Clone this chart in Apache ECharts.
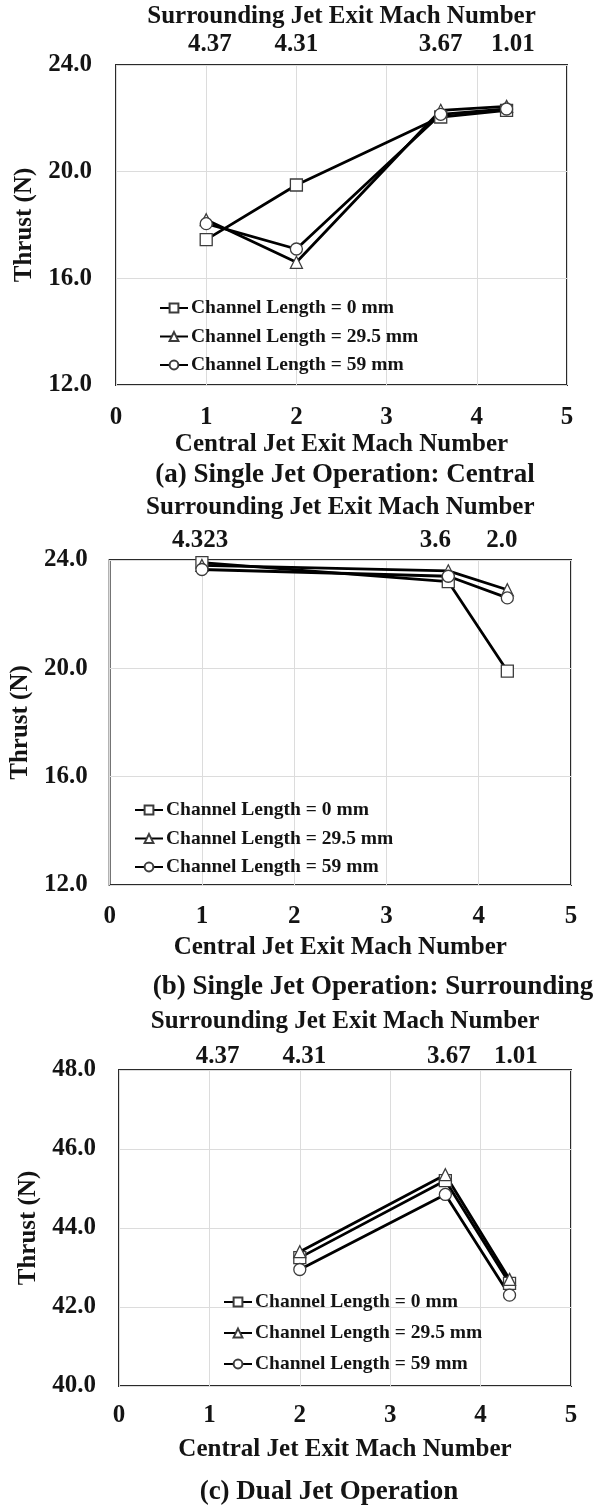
<!DOCTYPE html>
<html>
<head>
<meta charset="utf-8">
<script src="https://cdn.jsdelivr.net/npm/echarts@6/dist/echarts.min.js"></script>
<style>
  html, body { margin: 0; padding: 0; background: #ffffff; }
  #chart { width: 597px; height: 1506px; }
</style>
</head>
<body>
<div id="chart"></div>
<script>
// Series shared by all three panels
const seriesNames = ['Channel Length = 0 mm', 'Channel Length = 29.5 mm', 'Channel Length = 59 mm'];
const seriesSymbols = ['rect', 'triangle', 'circle'];

// (a) Single jet operation: central
const machA = [1, 2, 3.6, 4.33];
const thrustA_0 = [17.45, 19.5, 22.05, 22.3];
const thrustA_295 = [18.2, 16.6, 22.3, 22.45];
const thrustA_59 = [18.05, 17.1, 22.15, 22.35];
const topPosA = [1.04, 2.0, 3.6, 4.4];
const topLabelsA = ['4.37', '4.31', '3.67', '1.01'];

// (b) Single jet operation: surrounding
const machB = [1, 3.67, 4.31];
const thrustB_0 = [23.9, 23.2, 19.9];
const thrustB_295 = [23.8, 23.6, 22.9];
const thrustB_59 = [23.65, 23.4, 22.6];
const topPosB = [0.98, 3.53, 4.25];
const topLabelsB = ['4.323', '3.6', '2.0'];

// (c) Dual jet operation
const machC = [2, 3.61, 4.32];
const thrustC_0 = [43.25, 45.2, 42.6];
const thrustC_295 = [43.4, 45.35, 42.7];
const thrustC_59 = [42.95, 44.85, 42.3];
const topPosC = [1.09, 2.05, 3.65, 4.39];
const topLabelsC = ['4.37', '4.31', '3.67', '1.01'];

const captions = ['(a) Single Jet Operation: Central', '(b) Single Jet Operation: Surrounding', '(c) Dual Jet Operation'];
const xTitle = 'Central Jet Exit Mach Number';
const topTitle = 'Surrounding Jet Exit Mach Number';
const yTitle = 'Thrust (N)';

const FONT = '"Liberation Serif", "Times New Roman", serif';
const INK = '#141414';

const panels = [
  {
    x: machA, ys: [thrustA_0, thrustA_295, thrustA_59], yMin: 12, yMax: 24, yStep: 4,
    topPos: topPosA, topLabels: topLabelsA,
    grid: { left: 116, top: 65, width: 451, height: 320 },
    yLabelMargin: 24, yNameGap: 76, xNameGap: 47, topMargin: 8, topNameGap: 36, xLabelMargin: 20,
    legend: { left: 159, top: 298, gap: 8.5 },
    caption: { x: 345, y: 475 }
  },
  {
    x: machB, ys: [thrustB_0, thrustB_295, thrustB_59], yMin: 12, yMax: 24, yStep: 4,
    topPos: topPosB, topLabels: topLabelsB,
    grid: { left: 107, top: 560, width: 464, height: 325 },
    yLabelMargin: 22, yNameGap: 73, xNameGap: 50, topMargin: 7, topNameGap: 40, xLabelMargin: 19,
    legend: { left: 134, top: 800, gap: 8.5 },
    caption: { x: 373, y: 987 }
  },
  {
    x: machC, ys: [thrustC_0, thrustC_295, thrustC_59], yMin: 40, yMax: 48, yStep: 2,
    topPos: topPosC, topLabels: topLabelsC,
    grid: { left: 119, top: 1070, width: 452, height: 316 },
    yLabelMargin: 23, yNameGap: 71, xNameGap: 51, topMargin: 1, topNameGap: 36, xLabelMargin: 17,
    legend: { left: 223, top: 1292, gap: 11 },
    caption: { x: 329, y: 1492 }
  }
];

const textBase = { fontFamily: FONT, fontWeight: 'bold', color: INK };

const option = {
  animation: false,
  backgroundColor: '#ffffff',
  title: [],
  legend: [],
  grid: [],
  xAxis: [],
  yAxis: [],
  series: []
};

panels.forEach((p, i) => {
  option.grid.push(Object.assign({
    show: true, borderColor: '#2a2a2a', borderWidth: 2, backgroundColor: 'transparent',
    containLabel: false
  }, p.grid));

  // bottom axis: central jet Mach number
  option.xAxis.push({
    type: 'value', gridIndex: i, position: 'bottom', min: 0, max: 5, interval: 1,
    name: xTitle, nameLocation: 'middle', nameGap: p.xNameGap,
    nameTextStyle: Object.assign({ fontSize: 25 }, textBase),
    axisLine: { show: false }, axisTick: { show: false },
    axisLabel: Object.assign({ fontSize: 25, margin: p.xLabelMargin }, textBase),
    splitLine: { show: true, lineStyle: { color: '#dcdcdc', width: 1 } }
  });

  // top axis: surrounding jet Mach number at each operating point
  option.xAxis.push({
    type: 'value', gridIndex: i, position: 'top', min: 0, max: 5,
    name: topTitle, nameLocation: 'middle', nameGap: p.topNameGap,
    nameTextStyle: Object.assign({ fontSize: 25 }, textBase),
    axisLine: { show: false }, axisTick: { show: false },
    splitLine: { show: false },
    axisLabel: Object.assign({
      fontSize: 25, margin: p.topMargin,
      customValues: p.topPos,
      formatter: (v) => {
        const k = p.topPos.findIndex(t => Math.abs(t - v) < 1e-6);
        return k >= 0 ? p.topLabels[k] : '';
      }
    }, textBase)
  });

  option.yAxis.push({
    type: 'value', gridIndex: i, min: p.yMin, max: p.yMax, interval: p.yStep,
    name: yTitle, nameLocation: 'middle', nameGap: p.yNameGap, nameRotate: 90,
    nameTextStyle: Object.assign({ fontSize: 25 }, textBase),
    axisLine: { show: false }, axisTick: { show: false },
    axisLabel: Object.assign({ fontSize: 25, margin: p.yLabelMargin, formatter: v => v.toFixed(1) }, textBase),
    splitLine: { show: true, lineStyle: { color: '#dcdcdc', width: 1 } }
  });

  option.legend.push({
    orient: 'vertical', left: p.legend.left, top: p.legend.top, padding: 0,
    itemWidth: 28, itemHeight: 11, itemGap: p.legend.gap,
    selectedMode: false,
    data: seriesNames,
    textStyle: Object.assign({ fontSize: 19.5, padding: [0, 0, 0, -2] }, textBase)
  });

  option.title.push({
    text: captions[i], left: p.caption.x, top: p.caption.y, padding: 0,
    textAlign: 'center', textVerticalAlign: 'middle',
    textStyle: Object.assign({ fontSize: 27 }, textBase)
  });

  p.ys.forEach((vals, k) => {
    option.series.push({
      type: 'line', name: seriesNames[k],
      xAxisIndex: i * 2, yAxisIndex: i,
      data: p.x.map((m, j) => [m, vals[j]]),
      symbol: seriesSymbols[k], symbolSize: 12,
      lineStyle: { color: '#000000', width: 2.8 },
      itemStyle: { color: '#ffffff', borderColor: '#3c3c3c', borderWidth: 1.3 },
      emphasis: { disabled: true }
    });
  });
});

const chart = echarts.init(document.getElementById('chart'), null, { renderer: 'canvas' });
chart.setOption(option);
</script>
</body>
</html>
